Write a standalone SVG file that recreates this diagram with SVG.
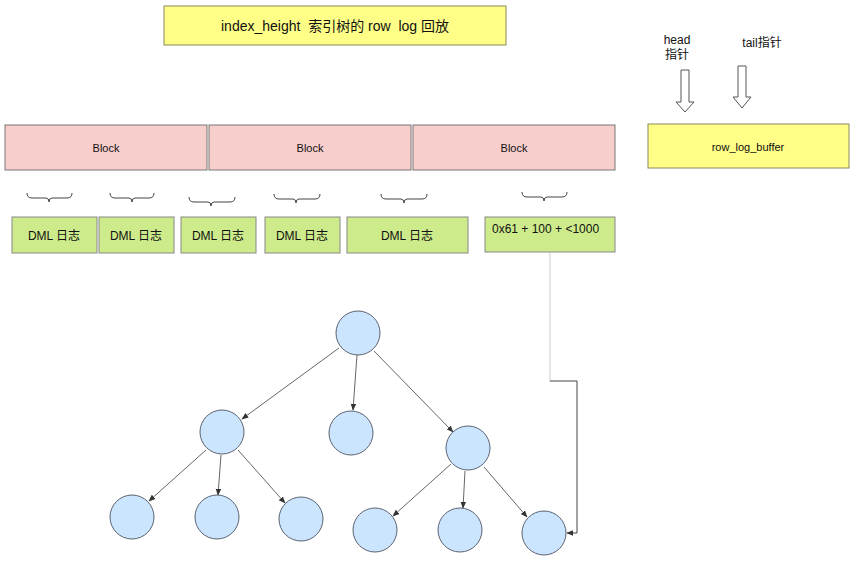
<svg xmlns="http://www.w3.org/2000/svg" width="856" height="562" viewBox="0 0 856 562">
<style>
text{font-family:"Liberation Sans","Noto Sans CJK SC",sans-serif;fill:#111;text-anchor:middle;dominant-baseline:central}
.yel{fill:#ffff88;stroke:#8a8a5a;stroke-width:1}
.blk{fill:#f8cecc;stroke:#777;stroke-width:1}
.dml{fill:#cdeb8b;stroke:#888;stroke-width:1}
.brace{fill:none;stroke:#444;stroke-width:1}
.hol{fill:#fff;stroke:#555;stroke-width:1}
.nd{fill:#cce5ff;stroke:#5a6270;stroke-width:1}
.ed{fill:none;stroke:#555;stroke-width:0.9;marker-end:url(#ah)}
</style>
<defs>
<marker id="ah" viewBox="0 0 10 10" refX="9" refY="5" markerWidth="7" markerHeight="7" orient="auto" markerUnits="userSpaceOnUse">
<path d="M0,1 L10,5 L0,9 z" fill="#333"/>
</marker>
</defs>
<rect width="856" height="562" fill="#fff"/>

<g id="title">
<rect class="yel" x="164" y="6" width="342" height="39"/>
<text x="335" y="26" font-size="14" xml:space="preserve" style="white-space:pre">index_height  索引树的 row  log 回放</text>
</g>

<g id="head">
<text x="677" y="40" font-size="12">head</text>
<text x="677" y="55" font-size="12">指针</text>
<path class="hol" d="M681,70 H689 V102 H694 L685,112 L676,102 H681 Z"/>
</g>
<g id="tail">
<text x="762" y="43" font-size="12">tail指针</text>
<path class="hol" d="M738,66 H746 V97 H751 L742,108 L733,97 H738 Z"/>
</g>
<g id="row_log_buffer">
<rect class="yel" x="648" y="124" width="201" height="44"/>
<text x="748" y="147" font-size="11">row_log_buffer</text>
</g>

<g id="block1"><rect class="blk" x="5" y="125" width="202" height="45"/><text x="106" y="148" font-size="11">Block</text></g>
<g id="block2"><rect class="blk" x="209" y="125" width="202" height="45"/><text x="310" y="148" font-size="11">Block</text></g>
<g id="block3"><rect class="blk" x="413" y="125" width="202" height="45"/><text x="514" y="148" font-size="11">Block</text></g>

<g id="braces">
<path class="brace" d="M27,193 Q27,198 32,198 H46 Q49,198 49,202 Q49,198 52,198 H67 Q72,198 72,193"/>
<path class="brace" d="M110,193 Q110,198 115,198 H129 Q132,198 132,202 Q132,198 135,198 H149 Q154,198 154,193"/>
<path class="brace" d="M189,197 Q189,202 194,202 H208 Q211,202 211,206 Q211,202 214,202 H230 Q235,202 235,197"/>
<path class="brace" d="M274,194 Q274,199 279,199 H293 Q296,199 296,203 Q296,199 299,199 H315 Q320,199 320,194"/>
<path class="brace" d="M381,194 Q381,199 386,199 H401 Q404,199 404,203 Q404,199 407,199 H422 Q427,199 427,194"/>
<path class="brace" d="M522,192 Q522,197 527,197 H541 Q544,197 544,201 Q544,197 547,197 H562 Q567,197 567,192"/>
</g>

<g id="dml1"><rect class="dml" x="12" y="217" width="85" height="36"/><text x="54" y="236" font-size="12">DML 日志</text></g>
<g id="dml2"><rect class="dml" x="99" y="217" width="75" height="36"/><text x="136" y="236" font-size="12">DML 日志</text></g>
<g id="dml3"><rect class="dml" x="181" y="217" width="75" height="36"/><text x="218" y="236" font-size="12">DML 日志</text></g>
<g id="dml4"><rect class="dml" x="265" y="217" width="75" height="36"/><text x="302" y="236" font-size="12">DML 日志</text></g>
<g id="dml5"><rect class="dml" x="347" y="217" width="121" height="36"/><text x="407" y="236" font-size="12">DML 日志</text></g>
<g id="dml6"><rect class="dml" x="485" y="217" width="130" height="35"/><text x="492" y="229" font-size="12" style="text-anchor:start">0x61 + 100 + &lt;1000</text></g>

<g id="connectors">
<path d="M550,253 V381" fill="none" stroke="#dcdcdc" stroke-width="1.5"/>
<path d="M550,381 H577 V533 H567" fill="none" stroke="#444" stroke-width="1" marker-end="url(#ah)"/>
<path class="ed" d="M339,348 L242,419"/>
<path class="ed" d="M357,355 L353,410"/>
<path class="ed" d="M374,351 L453,432"/>
<path class="ed" d="M206,450 L149,501"/>
<path class="ed" d="M221,455 L218,495"/>
<path class="ed" d="M238,450 L285,503"/>
<path class="ed" d="M451,464 L393,516"/>
<path class="ed" d="M465,471 L463,508"/>
<path class="ed" d="M484,467 L527,517"/>
</g>

<g id="n_root"><circle class="nd" cx="358" cy="333" r="22"/></g>
<g id="n_l"><circle class="nd" cx="222" cy="432" r="22"/></g>
<g id="n_c"><circle class="nd" cx="351" cy="433" r="22"/></g>
<g id="n_r"><circle class="nd" cx="468" cy="448" r="22"/></g>
<g id="n_ll"><circle class="nd" cx="132" cy="517" r="22"/></g>
<g id="n_lc"><circle class="nd" cx="217" cy="517" r="22"/></g>
<g id="n_lr"><circle class="nd" cx="301" cy="519" r="22"/></g>
<g id="n_rl"><circle class="nd" cx="375" cy="530" r="22"/></g>
<g id="n_rc"><circle class="nd" cx="460" cy="530" r="22"/></g>
<g id="n_rr"><circle class="nd" cx="544" cy="533" r="22"/></g>
</svg>
